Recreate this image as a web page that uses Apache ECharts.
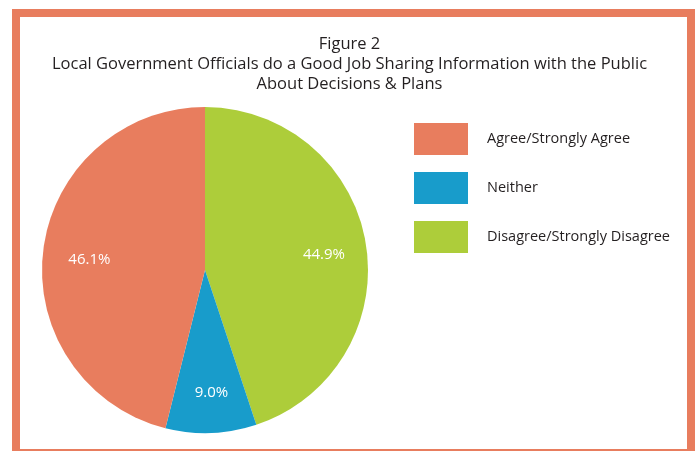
<!DOCTYPE html>
<html>
<head>
<meta charset="utf-8">
<script src="https://cdn.jsdelivr.net/npm/echarts@6/dist/echarts.min.js"></script>
<style>
    html, body { margin: 0; padding: 0; background: #fff; overflow: hidden; }
    #frame {
        position: absolute; left: 12px; top: 9px;
        width: 667px; height: 432px;
        border: 8px solid #e87d5e;
    }
    #chart { position: absolute; left: 0; top: 0; width: 699px; height: 451px; }
</style>
</head>
<body>
<div id="frame"></div>
<div id="chart"></div>
<script>
    // slices in drawing order, clockwise from 12 o'clock
    var categories = ['Disagree/Strongly Disagree', 'Neither', 'Agree/Strongly Agree'];
    var values = [44.9, 9.0, 46.1];
    var colors = ['#adcd3a', '#189ccb', '#e87d5e'];
    // legend reads top to bottom
    var legendOrder = ['Agree/Strongly Agree', 'Neither', 'Disagree/Strongly Disagree'];

    var titleLines = [
        'Figure 2',
        'Local Government Officials do a Good Job Sharing Information with the Public',
        'About Decisions & Plans'
    ];

    var font = '"Open Sans", sans-serif';

    var slices = categories.map(function(name, i) {
        return { name: name, value: values[i], itemStyle: { color: colors[i] } };
    });

    var chart = echarts.init(document.getElementById('chart'));

    chart.setOption({
        animation: false,
        title: {
            text: titleLines.join('\n'),
            left: 'center',
            top: 29,
            textStyle: {
                fontFamily: font,
                fontSize: 16.5,
                fontWeight: 'normal',
                color: '#231f20',
                lineHeight: 20
            }
        },
        legend: {
            data: legendOrder,
            orient: 'vertical',
            left: 409,
            top: 118,
            itemWidth: 54,
            itemHeight: 32,
            itemGap: 17,
            icon: 'rect',
            selectedMode: false,
            textStyle: {
                fontFamily: font,
                fontSize: 14.5,
                color: '#231f20',
                padding: [0, 0, 0, 14]
            }
        },
        series: [
            {
                type: 'pie',
                center: [205, 270],
                radius: [0, 163],
                startAngle: 90,
                clockwise: true,
                silent: true,
                label: { show: false },
                labelLine: { show: false },
                data: slices
            },
            {
                // transparent ring only used to push the labels outward
                type: 'pie',
                center: [205, 270],
                radius: [68, 163],
                startAngle: 90,
                clockwise: true,
                silent: true,
                itemStyle: { color: 'rgba(0,0,0,0)' },
                label: {
                    show: true,
                    position: 'inside',
                    offset: [2, 4],
                    formatter: function(p) { return p.value.toFixed(1) + '%'; },
                    fontFamily: font,
                    fontSize: 15,
                    color: '#fff'
                },
                labelLine: { show: false },
                data: categories.map(function(name, i) {
                    return { name: name, value: values[i] };
                })
            }
        ]
    });
</script>
</body>
</html>
